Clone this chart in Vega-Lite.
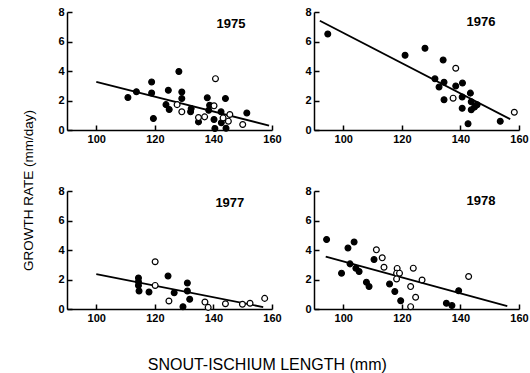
{
  "$schema": "https://vega.github.io/schema/vega-lite/v6.json",
  "background": "white",
  "padding": {"left": 22, "top": 6, "right": 0, "bottom": 2},
  "config": {
    "view": {"stroke": null},
    "font": "Liberation Sans",
    "axis": {
      "domainColor": "black", "domainWidth": 1.5,
      "tickColor": "black", "tickWidth": 1.5, "tickSize": -5,
      "labelFont": "Liberation Sans", "labelFontSize": 11, "labelFontWeight": "bold", "labelColor": "black",
      "grid": false, "labelPadding": 8, "labelFlush": false, "labelOverlap": false
    },
    "axisY": {"labelOverlap": false, "tickCount": 5},
    "axisLeft": {"labelOverlap": false},
    "circle": {"size": 34, "stroke": "black", "strokeWidth": 1.2, "opacity": 1},
    "line": {"color": "black", "strokeWidth": 1.8},
    "text": {"font": "Liberation Sans", "fontSize": 13, "fontWeight": "bold", "color": "black", "align": "center", "baseline": "middle"}
  },
  "title": {"text": "SNOUT-ISCHIUM LENGTH (mm)", "orient": "bottom", "anchor": "middle", "fontSize": 16, "fontWeight": "normal", "font": "Liberation Sans", "color": "black", "offset": 34, "dx": -8},
  "data": {"values": [
    {"year": 1975, "series": "filled", "x": 110.8, "y": 2.2},
    {"year": 1975, "series": "filled", "x": 113.7, "y": 2.6},
    {"year": 1975, "series": "filled", "x": 118.9, "y": 3.26},
    {"year": 1975, "series": "filled", "x": 118.9, "y": 2.51},
    {"year": 1975, "series": "filled", "x": 119.5, "y": 0.78},
    {"year": 1975, "series": "filled", "x": 123.8, "y": 1.72},
    {"year": 1975, "series": "filled", "x": 124.9, "y": 1.39},
    {"year": 1975, "series": "filled", "x": 124.6, "y": 2.69},
    {"year": 1975, "series": "filled", "x": 128.2, "y": 3.97},
    {"year": 1975, "series": "filled", "x": 129.2, "y": 2.58},
    {"year": 1975, "series": "filled", "x": 129.2, "y": 2.13},
    {"year": 1975, "series": "filled", "x": 132.4, "y": 1.45},
    {"year": 1975, "series": "filled", "x": 132.2, "y": 1.23},
    {"year": 1975, "series": "filled", "x": 134.9, "y": 0.55},
    {"year": 1975, "series": "filled", "x": 137.9, "y": 2.18},
    {"year": 1975, "series": "filled", "x": 138.7, "y": 1.68},
    {"year": 1975, "series": "filled", "x": 138.4, "y": 1.34},
    {"year": 1975, "series": "filled", "x": 140.2, "y": 0.71},
    {"year": 1975, "series": "filled", "x": 140.5, "y": 0.1},
    {"year": 1975, "series": "filled", "x": 142.6, "y": 1.23},
    {"year": 1975, "series": "filled", "x": 142.7, "y": 0.49},
    {"year": 1975, "series": "filled", "x": 144.1, "y": 2.13},
    {"year": 1975, "series": "filled", "x": 144.3, "y": 0.12},
    {"year": 1975, "series": "filled", "x": 151.4, "y": 1.16},
    {"year": 1975, "series": "open", "x": 140.7, "y": 3.48},
    {"year": 1975, "series": "open", "x": 127.6, "y": 1.72},
    {"year": 1975, "series": "open", "x": 129.2, "y": 1.23},
    {"year": 1975, "series": "open", "x": 134.9, "y": 0.84},
    {"year": 1975, "series": "open", "x": 137.0, "y": 0.89},
    {"year": 1975, "series": "open", "x": 140.2, "y": 1.64},
    {"year": 1975, "series": "open", "x": 143.3, "y": 0.82},
    {"year": 1975, "series": "open", "x": 145.6, "y": 1.05},
    {"year": 1975, "series": "open", "x": 145.1, "y": 0.6},
    {"year": 1975, "series": "open", "x": 150.0, "y": 0.37},
    {"year": 1975, "series": "fit", "x": 100, "y": 3.27},
    {"year": 1975, "series": "fit", "x": 159, "y": 0.3},
    {"year": 1975, "series": "label"},
    {"year": 1976, "series": "filled", "x": 94.7, "y": 6.51},
    {"year": 1976, "series": "filled", "x": 121.1, "y": 5.07},
    {"year": 1976, "series": "filled", "x": 127.9, "y": 5.54},
    {"year": 1976, "series": "filled", "x": 134.1, "y": 4.75},
    {"year": 1976, "series": "filled", "x": 131.3, "y": 3.47},
    {"year": 1976, "series": "filled", "x": 132.7, "y": 2.91},
    {"year": 1976, "series": "filled", "x": 134.4, "y": 3.24},
    {"year": 1976, "series": "filled", "x": 134.4, "y": 2.05},
    {"year": 1976, "series": "filled", "x": 138.4, "y": 2.99},
    {"year": 1976, "series": "filled", "x": 140.7, "y": 3.18},
    {"year": 1976, "series": "filled", "x": 140.6, "y": 2.23},
    {"year": 1976, "series": "filled", "x": 143.4, "y": 2.5},
    {"year": 1976, "series": "filled", "x": 143.7, "y": 1.91},
    {"year": 1976, "series": "filled", "x": 145.7, "y": 1.71},
    {"year": 1976, "series": "filled", "x": 144.8, "y": 1.55},
    {"year": 1976, "series": "filled", "x": 140.6, "y": 1.47},
    {"year": 1976, "series": "filled", "x": 143.7, "y": 1.37},
    {"year": 1976, "series": "filled", "x": 142.6, "y": 0.43},
    {"year": 1976, "series": "filled", "x": 153.6, "y": 0.59},
    {"year": 1976, "series": "open", "x": 138.4, "y": 4.19},
    {"year": 1976, "series": "open", "x": 137.5, "y": 2.16},
    {"year": 1976, "series": "open", "x": 158.4, "y": 1.2},
    {"year": 1976, "series": "fit", "x": 92, "y": 7.41},
    {"year": 1976, "series": "fit", "x": 157, "y": 0.74},
    {"year": 1976, "series": "label"},
    {"year": 1977, "series": "filled", "x": 114.4, "y": 2.1},
    {"year": 1977, "series": "filled", "x": 114.4, "y": 1.85},
    {"year": 1977, "series": "filled", "x": 114.4, "y": 1.6},
    {"year": 1977, "series": "filled", "x": 114.6, "y": 1.22},
    {"year": 1977, "series": "filled", "x": 118.0, "y": 1.15},
    {"year": 1977, "series": "filled", "x": 124.5, "y": 2.23},
    {"year": 1977, "series": "filled", "x": 126.6, "y": 1.1},
    {"year": 1977, "series": "filled", "x": 131.1, "y": 1.76},
    {"year": 1977, "series": "filled", "x": 131.1, "y": 1.22},
    {"year": 1977, "series": "filled", "x": 131.9, "y": 0.66},
    {"year": 1977, "series": "filled", "x": 129.6, "y": 0.15},
    {"year": 1977, "series": "open", "x": 120.1, "y": 3.2},
    {"year": 1977, "series": "open", "x": 120.1, "y": 1.6},
    {"year": 1977, "series": "open", "x": 124.8, "y": 0.54},
    {"year": 1977, "series": "open", "x": 137.1, "y": 0.47},
    {"year": 1977, "series": "open", "x": 138.2, "y": 0.11},
    {"year": 1977, "series": "open", "x": 144.1, "y": 0.36},
    {"year": 1977, "series": "open", "x": 149.9, "y": 0.32},
    {"year": 1977, "series": "open", "x": 152.5, "y": 0.39},
    {"year": 1977, "series": "open", "x": 157.5, "y": 0.72},
    {"year": 1977, "series": "fit", "x": 100, "y": 2.36},
    {"year": 1977, "series": "fit", "x": 157, "y": 0.13},
    {"year": 1977, "series": "label"},
    {"year": 1978, "series": "filled", "x": 94.3, "y": 4.71},
    {"year": 1978, "series": "filled", "x": 101.6, "y": 4.13},
    {"year": 1978, "series": "filled", "x": 103.7, "y": 4.54},
    {"year": 1978, "series": "filled", "x": 99.4, "y": 2.43},
    {"year": 1978, "series": "filled", "x": 102.3, "y": 3.06},
    {"year": 1978, "series": "filled", "x": 104.3, "y": 2.77},
    {"year": 1978, "series": "filled", "x": 105.4, "y": 2.54},
    {"year": 1978, "series": "filled", "x": 107.9, "y": 1.82},
    {"year": 1978, "series": "filled", "x": 108.8, "y": 1.52},
    {"year": 1978, "series": "filled", "x": 110.5, "y": 3.35},
    {"year": 1978, "series": "filled", "x": 115.8, "y": 1.7},
    {"year": 1978, "series": "filled", "x": 117.6, "y": 1.18},
    {"year": 1978, "series": "filled", "x": 119.6, "y": 0.56},
    {"year": 1978, "series": "filled", "x": 135.2, "y": 0.39},
    {"year": 1978, "series": "filled", "x": 137.1, "y": 0.23},
    {"year": 1978, "series": "filled", "x": 139.4, "y": 1.24},
    {"year": 1978, "series": "open", "x": 111.3, "y": 4.01},
    {"year": 1978, "series": "open", "x": 113.3, "y": 3.47},
    {"year": 1978, "series": "open", "x": 113.9, "y": 2.83},
    {"year": 1978, "series": "open", "x": 118.4, "y": 2.75},
    {"year": 1978, "series": "open", "x": 118.2, "y": 2.43},
    {"year": 1978, "series": "open", "x": 119.2, "y": 2.43},
    {"year": 1978, "series": "open", "x": 118.2, "y": 2.04},
    {"year": 1978, "series": "open", "x": 123.9, "y": 2.77},
    {"year": 1978, "series": "open", "x": 123.0, "y": 1.52},
    {"year": 1978, "series": "open", "x": 126.9, "y": 1.97},
    {"year": 1978, "series": "open", "x": 124.7, "y": 0.8},
    {"year": 1978, "series": "open", "x": 123.0, "y": 0.16},
    {"year": 1978, "series": "open", "x": 142.8, "y": 2.2},
    {"year": 1978, "series": "fit", "x": 94, "y": 3.55},
    {"year": 1978, "series": "fit", "x": 156, "y": 0.2},
    {"year": 1978, "series": "label"}
  ]},
  "vconcat": [
    {
      "title": {"text": "GROWTH RATE (mm/day)", "orient": "left", "anchor": "middle", "fontSize": 13.5, "fontWeight": "normal", "font": "Liberation Sans", "color": "black", "offset": 22, "dx": -26},
      "spacing": 41,
      "vconcat": [
        {
          "spacing": 22,
          "hconcat": [
            {
              "width": 205, "height": 118,
              "transform": [{"filter": "datum.year === 1975"}],
              "layer": [
                {"transform": [{"filter": "datum.series === 'fit'"}], "mark": "line",
                 "encoding": {
                   "x": {"field": "x", "type": "quantitative", "scale": {"domain": [90, 160], "nice": false, "zero": false}, "axis": {"title": null, "values": [100, 120, 140, 160], "labelOverlap": false}},
                   "y": {"field": "y", "type": "quantitative", "scale": {"domain": [0, 8], "nice": false}, "axis": {"title": null, "values": [0, 2, 4, 6, 8], "tickCount": 5, "labelOverlap": false}}}},
                {"transform": [{"filter": "datum.series === 'filled' || datum.series === 'open'"}], "mark": "circle",
                 "encoding": {
                   "x": {"field": "x", "type": "quantitative"},
                   "y": {"field": "y", "type": "quantitative"},
                   "fill": {"field": "series", "type": "nominal", "scale": {"domain": ["filled", "open"], "range": ["black", "white"]}, "legend": null}}},
                {"transform": [{"filter": "datum.series === 'label'"}], "mark": "text",
                 "encoding": {
                   "x": {"datum": 146, "type": "quantitative"},
                   "y": {"datum": 7.2, "type": "quantitative"},
                   "text": {"field": "year", "type": "nominal"}}}
              ]
            },
            {
              "width": 205, "height": 118,
              "transform": [{"filter": "datum.year === 1976"}],
              "layer": [
                {"transform": [{"filter": "datum.series === 'fit'"}], "mark": "line",
                 "encoding": {
                   "x": {"field": "x", "type": "quantitative", "scale": {"domain": [90, 160], "nice": false, "zero": false}, "axis": {"title": null, "values": [100, 120, 140, 160], "labelOverlap": false}},
                   "y": {"field": "y", "type": "quantitative", "scale": {"domain": [0, 8], "nice": false}, "axis": {"title": null, "values": [0, 2, 4, 6, 8], "tickCount": 5, "labelOverlap": false}}}},
                {"transform": [{"filter": "datum.series === 'filled' || datum.series === 'open'"}], "mark": "circle",
                 "encoding": {
                   "x": {"field": "x", "type": "quantitative"},
                   "y": {"field": "y", "type": "quantitative"},
                   "fill": {"field": "series", "type": "nominal", "scale": {"domain": ["filled", "open"], "range": ["black", "white"]}, "legend": null}}},
                {"transform": [{"filter": "datum.series === 'label'"}], "mark": "text",
                 "encoding": {
                   "x": {"datum": 147, "type": "quantitative"},
                   "y": {"datum": 7.35, "type": "quantitative"},
                   "text": {"field": "year", "type": "nominal"}}}
              ]
            }
          ]
        },
        {
          "spacing": 22,
          "hconcat": [
            {
              "width": 205, "height": 118,
              "transform": [{"filter": "datum.year === 1977"}],
              "layer": [
                {"transform": [{"filter": "datum.series === 'fit'"}], "mark": "line",
                 "encoding": {
                   "x": {"field": "x", "type": "quantitative", "scale": {"domain": [90, 160], "nice": false, "zero": false}, "axis": {"title": null, "values": [100, 120, 140, 160], "labelOverlap": false}},
                   "y": {"field": "y", "type": "quantitative", "scale": {"domain": [0, 8], "nice": false}, "axis": {"title": null, "values": [0, 2, 4, 6, 8], "tickCount": 5, "labelOverlap": false}}}},
                {"transform": [{"filter": "datum.series === 'filled' || datum.series === 'open'"}], "mark": "circle",
                 "encoding": {
                   "x": {"field": "x", "type": "quantitative"},
                   "y": {"field": "y", "type": "quantitative"},
                   "fill": {"field": "series", "type": "nominal", "scale": {"domain": ["filled", "open"], "range": ["black", "white"]}, "legend": null}}},
                {"transform": [{"filter": "datum.series === 'label'"}], "mark": "text",
                 "encoding": {
                   "x": {"datum": 145.6, "type": "quantitative"},
                   "y": {"datum": 7.2, "type": "quantitative"},
                   "text": {"field": "year", "type": "nominal"}}}
              ]
            },
            {
              "width": 205, "height": 118,
              "transform": [{"filter": "datum.year === 1978"}],
              "layer": [
                {"transform": [{"filter": "datum.series === 'fit'"}], "mark": "line",
                 "encoding": {
                   "x": {"field": "x", "type": "quantitative", "scale": {"domain": [90, 160], "nice": false, "zero": false}, "axis": {"title": null, "values": [100, 120, 140, 160], "labelOverlap": false}},
                   "y": {"field": "y", "type": "quantitative", "scale": {"domain": [0, 8], "nice": false}, "axis": {"title": null, "values": [0, 2, 4, 6, 8], "tickCount": 5, "labelOverlap": false}}}},
                {"transform": [{"filter": "datum.series === 'filled' || datum.series === 'open'"}], "mark": "circle",
                 "encoding": {
                   "x": {"field": "x", "type": "quantitative"},
                   "y": {"field": "y", "type": "quantitative"},
                   "fill": {"field": "series", "type": "nominal", "scale": {"domain": ["filled", "open"], "range": ["black", "white"]}, "legend": null}}},
                {"transform": [{"filter": "datum.series === 'label'"}], "mark": "text",
                 "encoding": {
                   "x": {"datum": 147, "type": "quantitative"},
                   "y": {"datum": 7.3, "type": "quantitative"},
                   "text": {"field": "year", "type": "nominal"}}}
              ]
            }
          ]
        }
      ]
    }
  ]
}
